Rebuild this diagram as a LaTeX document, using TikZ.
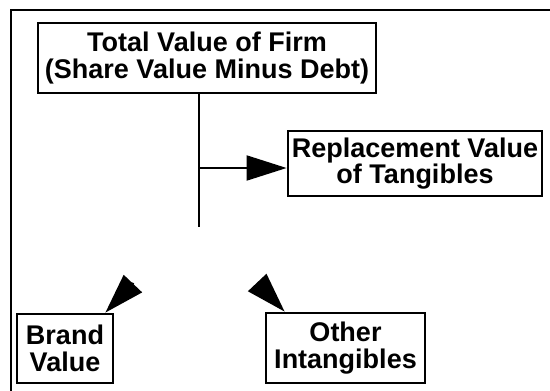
\documentclass[tikz,border=0pt]{standalone}
\usepackage{fontspec}
\setmainfont{Liberation Sans}
\usetikzlibrary{arrows.meta,calc}

\begin{document}
\begin{tikzpicture}[x=1pt, y=-1pt,
	box/.style = {draw, line width=2.8pt, align=center, inner sep=0pt,
		font=\bfseries\fontsize{27}{26.5}\selectfont},
	arr/.style = {line width=2pt, -{Triangle[length=40pt, width=25pt]}}]
	
	\useasboundingbox (0,0) rectangle (550,391);
	
	% frame, cut off at right and bottom
	\draw[line width=2pt] (11,400) -- (11,10) -- (560,10);
	
	\node[box, minimum width=338, minimum height=70] (total) at (207,58)
		{Total Value of Firm\\(Share Value Minus Debt)};
	\node[box, minimum width=254, minimum height=65] (repl) at (415,163.5)
		{Replacement Value\\of Tangibles};
	\node[box, minimum width=96, minimum height=69] (brand) at (65,348.5)
		{Brand\\Value};
	\node[box, minimum width=159, minimum height=70] (other) at (345.5,348)
		{Other\\Intangibles};
	
	\coordinate (stem) at (199,227);
	\coordinate (branch) at (199,168);
	\draw[line width=2pt] (stem |- total.south) -- (stem);
	\draw[arr] (branch) -- (branch -| repl.west);
	
	% only the heads are shown
	\coordinate (bbase) at (133.5,283);
	\coordinate (obase) at (260,285.5);
	\draw[arr] (bbase) -- ($(brand.north east)+(-9,0)$);
	\draw[arr] (obase) -- ($(other.north west)+(20,0)$);
\end{tikzpicture}
\end{document}
